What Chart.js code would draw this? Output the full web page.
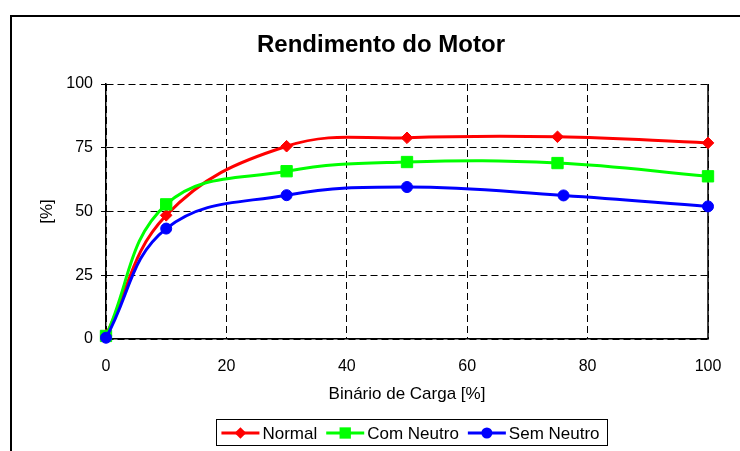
<!DOCTYPE html>
<html>
<head>
<meta charset="utf-8">
<script src="https://cdn.jsdelivr.net/npm/chart.js@4/dist/chart.umd.min.js"></script>
<style>
  html, body { margin: 0; padding: 0; background: #fff; }
  canvas { display: block; }
</style>
</head>
<body>
<canvas id="grafico" width="740" height="451"></canvas>
<script>
// carga em % do binário nominal
var carga = [0, 10, 30, 50, 75, 100];
var cargaSemNeutro = [0, 10, 30, 50, 76, 100];

// rendimento [%]
var normal    = [1.5, 48.5, 75.6, 78.9, 79.3, 76.9];
var comNeutro = [1.2, 52.8, 65.8, 69.4, 69.0, 63.8];
var semNeutro = [0.5, 43.3, 56.4, 59.6, 56.3, 52.0];

var ticksX = [0, 20, 40, 60, 80, 100];
var ticksY = [0, 25, 50, 75, 100];

var fonte = "'Liberation Sans', Arial, sans-serif";

function pontos(xs, ys) {
  return xs.map(function (x, i) { return { x: x, y: ys[i] }; });
}

function serie(nome, xs, ys, cor, estilo, raio, ordem) {
  return {
    label: nome,
    data: pontos(xs, ys),
    borderColor: cor,
    backgroundColor: cor,
    borderWidth: 3,
    pointStyle: estilo,
    pointRadius: raio,
    pointBorderWidth: 1,
    pointBackgroundColor: cor,
    pointBorderColor: cor,
    tension: 0.4,
    clip: false,
    order: ordem
  };
}

// desenha um marcador igual ao das séries (para a legenda)
function marcador(ctx, estilo, x, y, r, cor) {
  ctx.save();
  ctx.fillStyle = cor;
  ctx.beginPath();
  if (estilo === 'rectRot') {
    ctx.moveTo(x - r, y); ctx.lineTo(x, y - r); ctx.lineTo(x + r, y); ctx.lineTo(x, y + r);
    ctx.closePath();
  } else if (estilo === 'rect') {
    var s = r * Math.SQRT1_2;
    ctx.rect(x - s, y - s, 2 * s, 2 * s);
  } else {
    ctx.arc(x, y, r, 0, Math.PI * 2);
  }
  ctx.fill();
  ctx.restore();
}

var moldura = {
  id: 'moldura',
  beforeDraw: function (chart) {
    var ctx = chart.ctx;
    ctx.save();
    ctx.fillStyle = '#fff';
    ctx.fillRect(0, 0, chart.width, chart.height);
    ctx.strokeStyle = '#000';
    ctx.lineWidth = 2;
    ctx.beginPath();
    ctx.moveTo(11, chart.height);
    ctx.lineTo(11, 16);
    ctx.lineTo(chart.width, 16);
    ctx.stroke();
    ctx.restore();
  },
  beforeDatasetsDraw: function (chart) {
    // lado direito da área do gráfico em traço contínuo
    var a = chart.chartArea, ctx = chart.ctx;
    ctx.save();
    ctx.strokeStyle = '#000';
    ctx.lineWidth = 1.5;
    ctx.beginPath();
    ctx.moveTo(a.right, a.top);
    ctx.lineTo(a.right, a.bottom);
    ctx.stroke();
    ctx.restore();
  },
  afterDraw: function (chart) {
    var ctx = chart.ctx;
    var ds = chart.data.datasets;
    ctx.save();
    ctx.font = '17px ' + fonte;
    ctx.textBaseline = 'middle';
    var linha = 38, gapTxt = 3, gapItem = 9;
    var total = 0;
    ds.forEach(function (d) { total += linha + gapTxt + ctx.measureText(d.label).width + gapItem; });
    total -= gapItem;
    var y = 433;
    var x = 410.5 - total / 2;
    ctx.strokeStyle = '#000';
    ctx.lineWidth = 1;
    ctx.strokeRect(Math.round(x - 5) + 0.5, 419.5, Math.round(total + 13), 26);
    ds.forEach(function (d) {
      ctx.strokeStyle = d.borderColor;
      ctx.lineWidth = 3;
      ctx.beginPath();
      ctx.moveTo(x, y);
      ctx.lineTo(x + linha, y);
      ctx.stroke();
      marcador(ctx, d.pointStyle, x + linha / 2, y, d.pointRadius, d.borderColor);
      x += linha + gapTxt;
      ctx.fillStyle = '#000';
      ctx.fillText(d.label, x, y + 1);
      x += ctx.measureText(d.label).width + gapItem;
    });
    ctx.restore();
  }
};

function grade(comTraco) {
  return {
    color: '#000',
    lineWidth: 1,
    drawTicks: comTraco,
    tickLength: 5,
    tickColor: '#000',
    tickBorderDash: []
  };
}

var borda = { display: true, color: '#000', width: 1.5, dash: [7, 4] };

new Chart(document.getElementById('grafico'), {
  type: 'line',
  data: {
    datasets: [
      serie('Normal', carga, normal, '#ff0000', 'rectRot', 5.8, 3),
      serie('Com Neutro', carga, comNeutro, '#00ff00', 'rect', 8, 2),
      serie('Sem Neutro', cargaSemNeutro, semNeutro, '#0000ff', 'circle', 5.5, 1)
    ]
  },
  options: {
    responsive: false,
    animation: false,
    layout: { padding: { left: 54, right: 32, top: 0, bottom: 42 } },
    plugins: {
      legend: { display: false },
      tooltip: { enabled: false },
      title: {
        display: true,
        text: 'Rendimento do Motor',
        color: '#000',
        font: { family: fonte, size: 24, weight: 'bold' },
        padding: { top: 30.6, bottom: 24.6 }
      }
    },
    scales: {
      x: {
        type: 'linear',
        min: 0,
        max: 100,
        afterBuildTicks: function (s) { s.ticks = ticksX.map(function (v) { return { value: v }; }); },
        afterFit: function (s) { s.height = 70; },
        grid: grade(false),
        border: borda,
        ticks: { color: '#000', padding: 18, maxRotation: 0, font: { family: fonte, size: 16 } },
        title: {
          display: true,
          text: 'Binário de Carga [%]',
          color: '#000',
          font: { family: fonte, size: 17 },
          padding: { top: 4, bottom: 4 }
        }
      },
      y: {
        type: 'linear',
        min: 0,
        max: 100,
        afterBuildTicks: function (s) { s.ticks = ticksY.map(function (v) { return { value: v }; }); },
        afterFit: function (s) { s.width = 52; },
        grid: grade(true),
        border: borda,
        ticks: { color: '#000', padding: 8, font: { family: fonte, size: 16 } },
        title: {
          display: true,
          text: '[%]',
          color: '#000',
          font: { family: fonte, size: 17 },
          // o eixo começa em x=54; o título fica à esquerda dele
          padding: { top: -17, bottom: 0 }
        }
      }
    }
  },
  plugins: [moldura]
});
</script>
</body>
</html>
